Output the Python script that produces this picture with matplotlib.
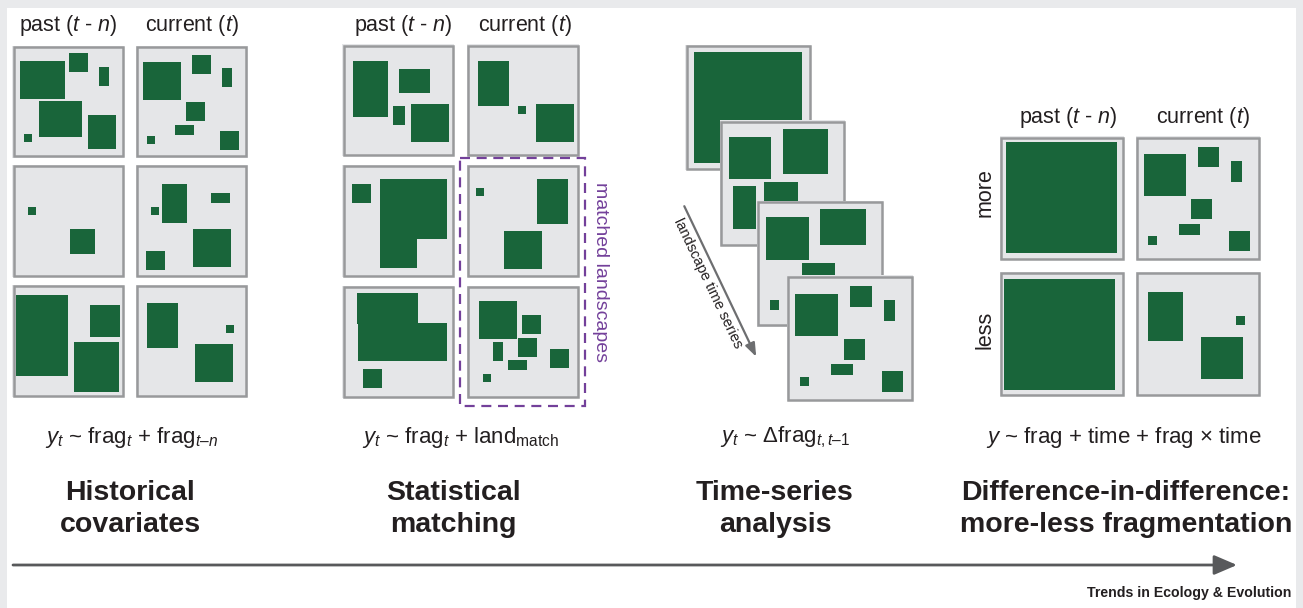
import matplotlib
matplotlib.use('Agg')
import matplotlib.pyplot as plt
from matplotlib.patches import Rectangle

plt.rcParams['font.family'] = ['Liberation Sans', 'DejaVu Sans']
plt.rcParams['mathtext.fontset'] = 'custom'
plt.rcParams['mathtext.rm'] = 'Liberation Sans'
plt.rcParams['mathtext.it'] = 'Liberation Sans:italic'
plt.rcParams['mathtext.bf'] = 'Liberation Sans:bold'

# habitat patches per landscape, in percent of the box (x0, x1, y0, y1)
land_a = [(6.8, 47.3, 13.7, 47.3), (50.6, 67.3, 6.5, 23.2), (77.4, 86.3, 19.0, 35.7),
          (23.8, 61.9, 49.4, 81.3), (67.6, 92.3, 61.9, 92.0), (10.4, 17.6, 78.9, 85.7)]
land_b = [(6.5, 40.5, 14.6, 48.2), (50.3, 67.3, 8.3, 25.0), (77.1, 86.0, 19.9, 36.6),
          (44.9, 61.9, 50.3, 67.0), (35.1, 52.1, 70.8, 79.5), (10.1, 17.3, 80.7, 87.8),
          (75.3, 92.3, 76.2, 92.9)]
land_c = [(14.0, 21.1, 37.5, 44.6), (51.5, 73.8, 57.1, 79.2)]
land_d = [(23.5, 45.8, 17.0, 51.5), (13.7, 20.8, 37.5, 44.6), (67.3, 84.2, 25.0, 33.6),
          (51.2, 85.1, 57.1, 90.8), (9.2, 26.2, 76.8, 93.5)]
land_e = [(3.3, 49.7, 8.9, 81.0), (69.3, 96.1, 17.9, 46.1), (55.1, 95.2, 50.9, 95.2)]
land_f = [(10.1, 37.8, 16.1, 56.0), (80.7, 87.8, 35.7, 42.6), (53.0, 86.9, 52.7, 86.3)]
land_g = [(9.5, 40.5, 14.9, 64.6), (50.6, 78.0, 22.0, 43.2), (45.2, 56.0, 55.1, 71.7),
          (61.3, 94.9, 53.3, 86.9)]
land_h = [(10.1, 37.5, 14.9, 54.8), (45.8, 52.7, 55.1, 61.9), (61.9, 95.5, 53.3, 86.9)]
land_i = [(8.6, 25.3, 17.0, 33.6), (33.5, 93.2, 12.5, 66.4), (33.5, 67.0, 66.0, 91.7)]
land_j = [(8.3, 15.5, 20.5, 27.4), (62.8, 90.5, 12.5, 52.4), (33.3, 67.3, 58.9, 92.6)]
land_k = [(13.1, 67.6, 6.5, 34.0), (14.0, 93.2, 33.3, 67.0), (18.5, 35.4, 74.4, 91.1)]
land_l = [(11.0, 44.9, 13.7, 47.3), (49.4, 66.4, 26.2, 42.9), (23.5, 32.4, 50.6, 67.0),
          (45.8, 62.8, 46.7, 63.4), (36.9, 53.9, 66.4, 75.0), (74.4, 91.4, 56.5, 73.2),
          (14.6, 21.7, 78.9, 85.7)]
land_full = [(7.3, 92.7, 5.9, 94.1)]
land_ts2 = [(7.3, 41.1, 13.4, 47.0), (50.0, 86.3, 7.0, 43.0), (10.5, 29.0, 52.4, 86.0),
            (35.5, 62.1, 49.2, 80.0)]
land_ts3 = [(7.3, 41.1, 13.2, 46.8), (50.0, 86.3, 6.7, 35.5), (35.5, 62.1, 49.5, 75.0),
            (10.5, 17.7, 79.3, 86.6)]
land_more_past = [(4.8, 94.1, 4.6, 93.8)]
land_less_past = [(3.2, 92.5, 5.9, 95.2)]

# panels: (left, top, size, landscape)
panel1 = [(12.3, 45.7, 112, land_a), (135.7, 45.7, 112, land_b),
          (12.3, 165, 112, land_c), (135.7, 165, 112, land_d),
          (12.3, 285, 112, land_e), (135.7, 285, 112, land_f)]
panel2 = [(342.3, 44.3, 112, land_g), (466.7, 44.3, 112, land_h),
          (342.3, 165, 112, land_i), (466.7, 165, 112, land_j),
          (342.3, 285.7, 112, land_k), (466.7, 285.7, 112, land_l)]
panel3 = [(685.3, 44.5, 125.7, land_full), (719.7, 120.4, 125.7, land_ts2),
          (757.2, 200.8, 125.7, land_ts3), (787.2, 275.4, 125.7, land_b)]
panel4 = [(1000, 136.3, 124, land_more_past), (1135.7, 136.3, 124, land_b),
          (1000, 271.7, 124, land_less_past), (1135.7, 271.7, 124, land_f)]

headers = [('past ($t$ - $n$)', 68, 25), ('current ($t$)', 192, 25),
           ('past ($t$ - $n$)', 403, 25), ('current ($t$)', 525, 25),
           ('past ($t$ - $n$)', 1068, 118), ('current ($t$)', 1203, 118)]
formulas = [(r'$y_t$ ~ $\mathrm{frag}_t$ + $\mathrm{frag}_{t–n}$', 131),
            (r'$y_t$ ~ $\mathrm{frag}_t$ + $\mathrm{land}_\mathrm{match}$', 461),
            (r'$y_t$ ~ $\Delta\mathrm{frag}_{t,t–1}$', 785),
            (r'$y$ ~ frag + time + frag $\times$ time', 1124)]
titles = [('Historical\ncovariates', 130), ('Statistical\nmatching', 453),
          ('Time-series\nanalysis', 775), ('Difference-in-difference:\nmore-less fragmentation', 1126)]

green = '#19653a'
box_fill = '#e5e6e8'
box_edge = '#98999b'
purple = '#73409a'
ink = '#231f20'

fig = plt.figure(figsize=(13.03, 6.08), dpi=100, facecolor='#e9eaec')
ax = fig.add_axes([0, 0, 1, 1])
ax.set_xlim(0, 1303)
ax.set_ylim(608, 0)
ax.axis('off')
ax.add_patch(Rectangle((7, 8), 1289, 600, facecolor='white', edgecolor='none', zorder=0))


def draw_box(left, top, size, patches, z):
    ax.add_patch(Rectangle((left, top), size, size, facecolor=box_fill,
                           edgecolor='none', zorder=z))
    for x0, x1, y0, y1 in patches:
        ax.add_patch(Rectangle((left + x0 / 100 * size, top + y0 / 100 * size),
                               (x1 - x0) / 100 * size, (y1 - y0) / 100 * size,
                               facecolor=green, edgecolor='none', zorder=z + 1))
    ax.add_patch(Rectangle((left + 1.2, top + 1.2), size - 2.4, size - 2.4, fill=False,
                           edgecolor=box_edge, linewidth=1.8, zorder=z + 2))


for i, (l, t, s, p) in enumerate(panel1 + panel2 + panel3 + panel4):
    draw_box(l, t, s, p, 10 + 3 * i)

for txt, x, y in headers:
    ax.text(x, y, txt, ha='center', va='center', fontsize=15.5, color=ink)

ax.text(985, 193, 'more', rotation=90, ha='center', va='center', fontsize=15.5, color=ink)
ax.text(985, 330, 'less', rotation=90, ha='center', va='center', fontsize=15.5, color=ink)

# matched landscapes frame
ax.add_patch(Rectangle((460, 158), 125, 248, fill=False, edgecolor=purple,
                       linewidth=1.6, linestyle=(0, (4.5, 3)), zorder=100))
ax.text(601, 272, 'matched landscapes', rotation=-90, ha='center', va='center',
        fontsize=14, color=purple)

# time series arrow
ax.annotate('', xy=(756.2, 356.7), xytext=(684.3, 206.2),
            arrowprops=dict(arrowstyle='-|>,head_length=0.8,head_width=0.3',
                            color='#6d6e70', lw=1.6, shrinkA=0, shrinkB=0), zorder=5)
ax.text(708, 283, 'landscape time series', rotation=-64.5, rotation_mode='anchor',
        ha='center', va='center', fontsize=10.5, color=ink)

for txt, x in formulas:
    ax.text(x, 437, txt, ha='center', va='center', fontsize=16, color=ink)

for txt, x in titles:
    ax.text(x, 509, txt, ha='center', va='center', fontsize=20.5, fontweight='bold',
            linespacing=1.32, color=ink)

# method axis
ax.annotate('', xy=(1237, 565), xytext=(13, 565),
            arrowprops=dict(arrowstyle='-|>,head_length=1.4,head_width=0.6',
                            color='#58595b', lw=2, shrinkA=0, shrinkB=0))

ax.text(1291, 593, 'Trends in Ecology & Evolution', ha='right', va='center',
        fontsize=10.2, fontweight='bold', color=ink)

fig.savefig('out.png', dpi=100, facecolor=fig.get_facecolor())
